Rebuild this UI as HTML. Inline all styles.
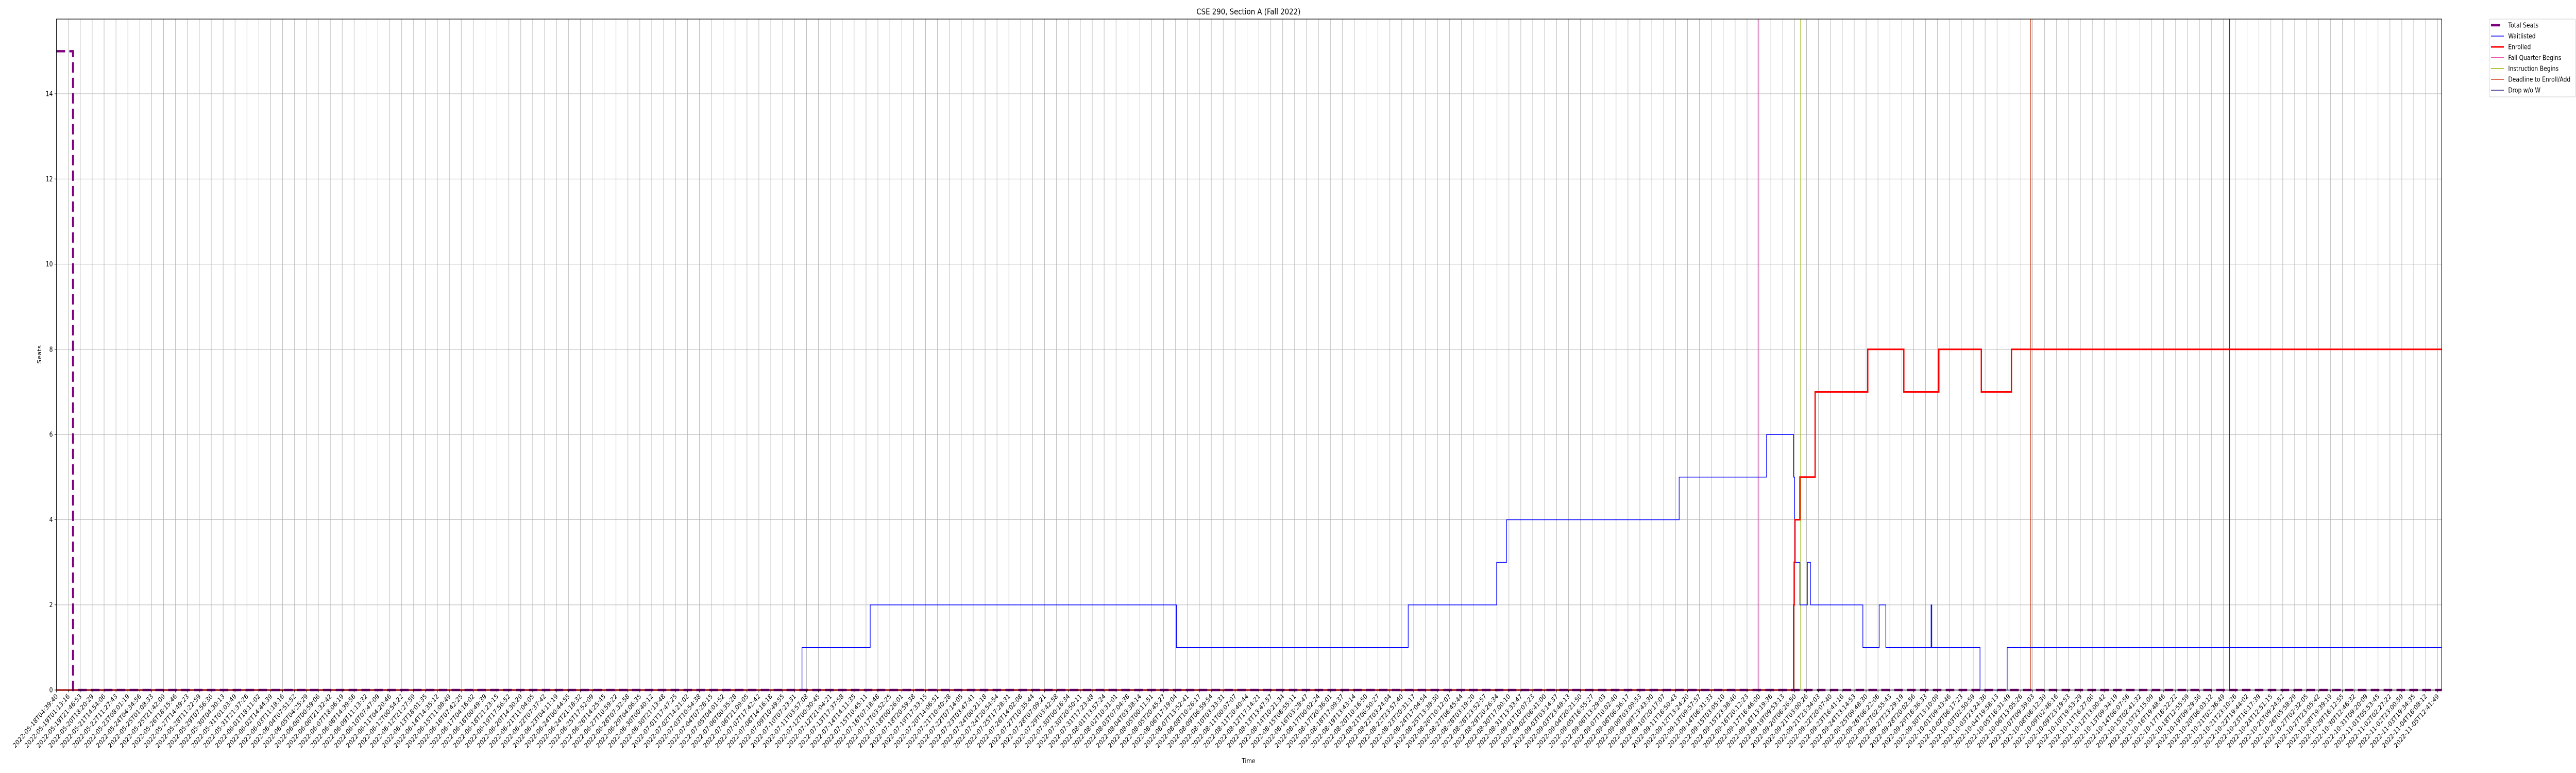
<!DOCTYPE html>
<html>
<head>
<meta charset="utf-8">
<style>
  html, body { margin: 0; padding: 0; background: #ffffff; overflow: hidden; width: 100%; height: 100%; }
  svg { display: block; overflow: hidden; width: 100vw; height: 100vh; }
  svg text { font-family: "DejaVu Sans", "Liberation Sans", sans-serif; fill: #000; }
</style>
</head>
<body>
<svg id="chart" xmlns="http://www.w3.org/2000/svg" viewBox="0 0 6000 1500" preserveAspectRatio="none">
  <rect x="0" y="0" width="6000" height="1500" fill="#ffffff"/>
  <text x="2908" y="28" font-size="16" text-anchor="middle">CSE 290, Section A (Fall 2022)</text>
  <g id="grid"></g>
  <g id="marks"></g>
  <rect x="131.5" y="37" width="5555.5" height="1302" fill="none" stroke="#000" stroke-width="1.2"/>
  <g id="xaxis"></g>
  <g id="yaxis"></g>
  <text x="2908" y="1481" font-size="13" text-anchor="middle">Time</text>
  <text x="0" y="0" font-size="13" text-anchor="middle" transform="translate(96,688) rotate(-90)">Seats</text>
  <g id="legend"></g>
</svg>
<script>
// ---- data (x values are in tick-index units along the time axis) ----
const tickStartLabel = "2022-05-18T04:39:40";
const tickEndLabel = "2022-11-05T12:41:49";
const tickCount = 201;
const yTicks = [0, 2, 4, 6, 8, 10, 12, 14];

const totalSeatsX = [0, 1.39, 200.36];
const totalSeatsY = [15, 0, 0];

const waitlistX = [0, 62.62, 68.35, 94.07, 113.54, 120.97, 121.80, 136.30, 143.64, 145.91, 146.00, 146.44, 147.07, 147.33, 151.73, 153.10, 153.66, 157.46, 157.52, 161.57, 163.85, 200.36];
const waitlistY = [0, 1, 2, 1, 2, 3, 4, 5, 6, 5, 3, 2, 3, 2, 1, 2, 1, 2, 1, 0, 1, 1];

const enrolledX = [0, 145.91, 145.96, 146.03, 146.44, 147.72, 152.14, 155.17, 158.11, 161.68, 164.21, 200.36];
const enrolledY = [0, 2, 3, 4, 5, 7, 8, 7, 8, 7, 8, 8];

const eventNames = ["Fall Quarter Begins", "Instruction Begins", "Deadline to Enroll/Add", "Drop w/o W"];
const eventX = [142.93, 146.51, 165.83, 182.53];
const eventColors = ["#e0209a", "#8fb800", "#d2401c", "#2c2580"];

// ---- axis functions ----
const X0 = 131.5, TICKW = 27.73, XMAX = 200.36;
const Y0 = 1339, YU = 82.64;
function xs(v) { return X0 + v * TICKW; }
function ys(v) { return Y0 - v * YU; }

const NS = "http://www.w3.org/2000/svg";
function mk(tag, attrs, parent) {
  const e = document.createElementNS(NS, tag);
  for (const k in attrs) e.setAttribute(k, attrs[k]);
  parent.appendChild(e);
  return e;
}
function pad(n) { return String(n).padStart(2, "0"); }
function parseT(s) { return Date.UTC(+s.slice(0,4), +s.slice(5,7)-1, +s.slice(8,10), +s.slice(11,13), +s.slice(14,16), +s.slice(17,19)); }
function fmtT(ms) { const d = new Date(ms); return d.getUTCFullYear()+"-"+pad(d.getUTCMonth()+1)+"-"+pad(d.getUTCDate())+"T"+pad(d.getUTCHours())+":"+pad(d.getUTCMinutes())+":"+pad(d.getUTCSeconds()); }

const grid = document.getElementById("grid");
const xaxis = document.getElementById("xaxis");
const yaxis = document.getElementById("yaxis");
const marks = document.getElementById("marks");
const legend = document.getElementById("legend");

// x ticks + grid
const t0 = parseT(tickStartLabel), t1 = parseT(tickEndLabel);
for (let i = 0; i < tickCount; i++) {
  const x = xs(i);
  const gl = mk("line", {x1: x, x2: x, y1: 37, y2: 1339, stroke: "#b0b0b0", "stroke-width": 1}, grid);
  
  
  const tk = mk("line", {x1: x, x2: x, y1: 1339, y2: 1343.5, stroke: "#000", "stroke-width": 1}, xaxis);
  
  
  const lbl = fmtT(t0 + (t1 - t0) * i / (tickCount - 1));
  const tx = mk("text", {x: 0, y: 0, "font-size": 13, "text-anchor": "end", transform: "translate(" + (x + 4) + ",1352) rotate(-45)"}, xaxis);
  
  
  tx.textContent = lbl;
}
// y ticks + grid
yTicks.forEach(v => {
  const y = ys(v);
  const gl = mk("line", {x1: 131.5, x2: 5687, y1: y, y2: y, stroke: "#b0b0b0", "stroke-width": 1}, grid);
  
  
  const tk = mk("line", {x1: 127, x2: 131.5, y1: y, y2: y, stroke: "#000", "stroke-width": 1}, yaxis);
  
  
  const tx = mk("text", {x: 123, y: y + 4.5, "font-size": 13, "text-anchor": "end"}, yaxis);
  
  
  tx.textContent = v;
});

function stepPath(xsArr, ysArr) {
  let d = "M" + xs(xsArr[0]) + "," + ys(ysArr[0]);
  for (let i = 1; i < xsArr.length; i++) {
    d += " H" + xs(xsArr[i]) + " V" + ys(ysArr[i]);
  }
  return d;
}

// event lines
eventX.forEach((v, i) => {
  const ln = mk("line", {x1: xs(v), x2: xs(v), y1: 37, y2: 1339, stroke: eventColors[i], "stroke-width": 1.5}, marks);
  
  
});
// waitlisted
const wp = mk("path", {d: stepPath(waitlistX, waitlistY), fill: "none", stroke: "#0000ff", "stroke-width": 1.5}, marks);


// enrolled
const ep = mk("path", {d: stepPath(enrolledX, enrolledY), fill: "none", stroke: "#ff0000", "stroke-width": 3}, marks);


// total seats
const tp = mk("path", {d: stepPath(totalSeatsX, totalSeatsY), fill: "none", stroke: "#800080", "stroke-width": 4.5, "stroke-dasharray": "20 10"}, marks);



// legend
const legBox = mk("rect", {x: 5798, y: 37, width: 201, height: 151, rx: 3, fill: "#fff", "fill-opacity": 0.8, stroke: "#cccccc", "stroke-width": 1}, legend);


const legNames = ["Total Seats", "Waitlisted", "Enrolled"].concat(eventNames);
const legColors = ["#800080", "#0000ff", "#ff0000"].concat(eventColors);
const legWidths = [4.5, 1.5, 3, 1.5, 1.5, 1.5, 1.5];
legNames.forEach((n, i) => {
  const y = 49 + i * 21;
  const ln = mk("line", {x1: 5802, x2: i === 0 ? 5823 : 5832, y1: y, y2: y, stroke: legColors[i], "stroke-width": legWidths[i]}, legend);
  
  
  const tx = mk("text", {x: 5842, y: y + 4.5, "font-size": 13}, legend);
  
  
  tx.textContent = n;
});
</script>
</body>
</html>
